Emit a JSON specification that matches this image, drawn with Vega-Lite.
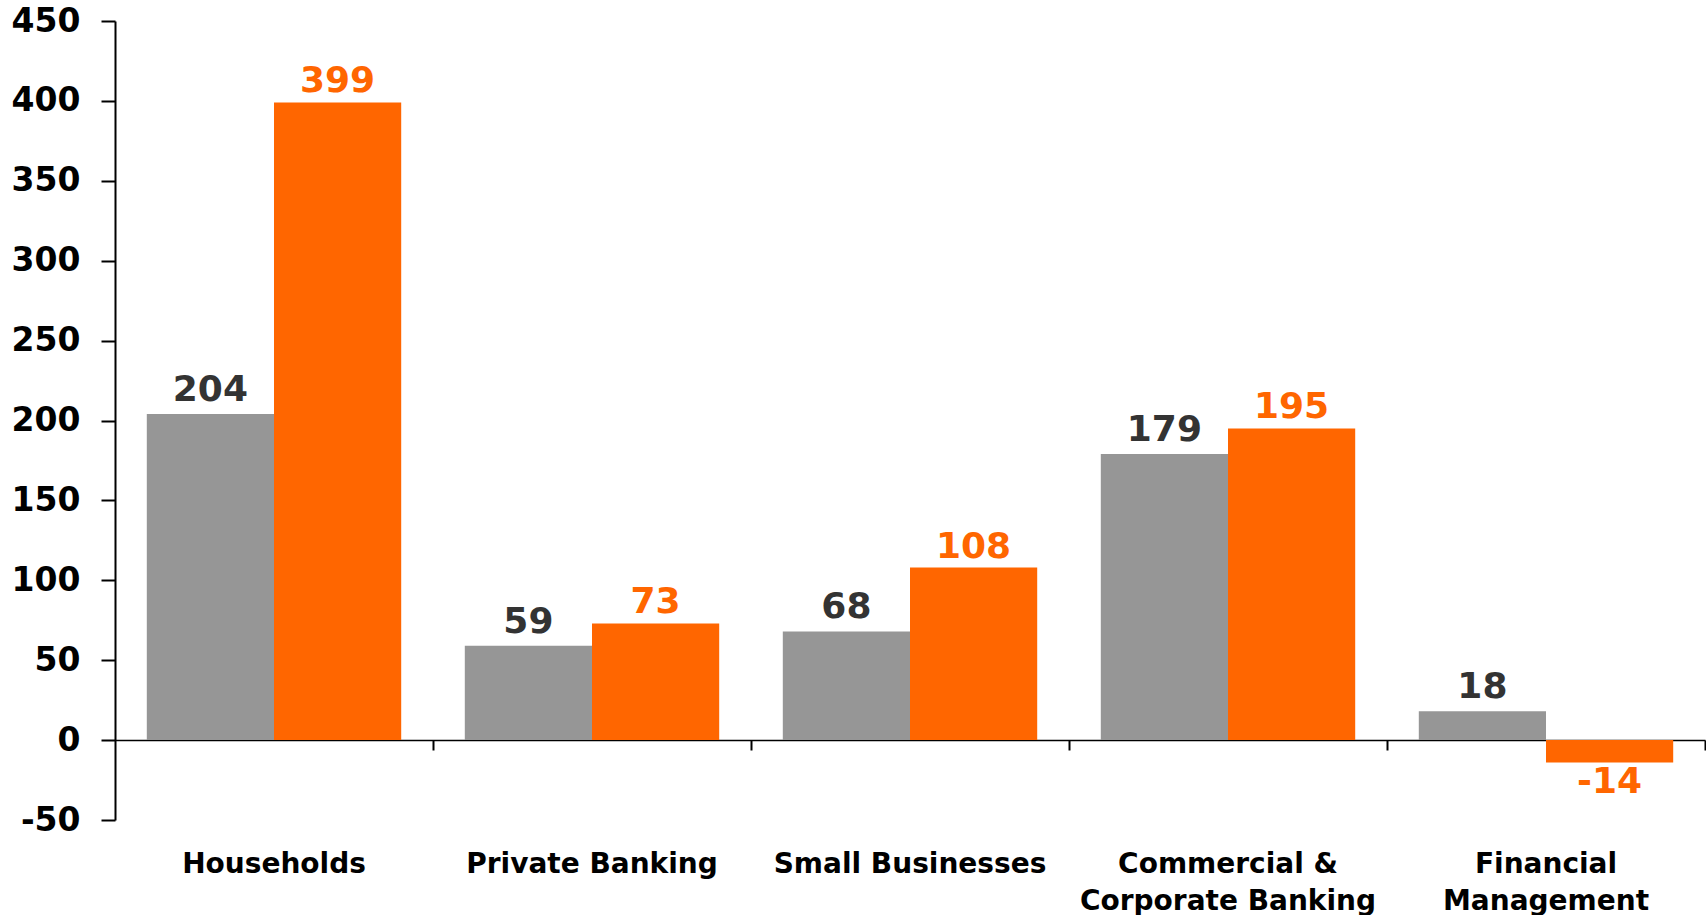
{
  "$schema": "https://vega.github.io/schema/vega-lite/v6.json",
  "width": 1590,
  "height": 799,
  "autosize": "none",
  "padding": {"left": 115, "top": 21, "right": 1, "bottom": 95},
  "background": "white",
  "config": {"view": {"stroke": null}, "font": "DejaVu Sans"},
  "data": {
    "values": [
      {"segment": "Households", "series": "Series 1", "value": 204},
      {"segment": "Households", "series": "Series 2", "value": 399},
      {"segment": "Private Banking", "series": "Series 1", "value": 59},
      {"segment": "Private Banking", "series": "Series 2", "value": 73},
      {"segment": "Small Businesses", "series": "Series 1", "value": 68},
      {"segment": "Small Businesses", "series": "Series 2", "value": 108},
      {"segment": "Commercial & Corporate Banking", "series": "Series 1", "value": 179},
      {"segment": "Commercial & Corporate Banking", "series": "Series 2", "value": 195},
      {"segment": "Financial Management", "series": "Series 1", "value": 18},
      {"segment": "Financial Management", "series": "Series 2", "value": -14}
    ]
  },
  "encoding": {
    "x": {
      "field": "segment",
      "type": "nominal",
      "sort": null,
      "scale": {"paddingInner": 0.2, "paddingOuter": 0.1},
      "axis": {
        "title": null,
        "orient": "bottom",
        "offset": -80,
        "bandPosition": 1.125,
        "tickExtra": false,
        "labelAngle": 0,
        "labelFont": "DejaVu Sans",
        "labelFontSize": 28,
        "labelFontWeight": "bold",
        "labelColor": "black",
        "labelPadding": 100,
        "labelLineHeight": 37,
        "labelBaseline": "top",
        "labelLimit": 500,
        "labelExpr": "datum.label == 'Commercial & Corporate Banking' ? ['Commercial &', 'Corporate Banking'] : datum.label == 'Financial Management' ? ['Financial', 'Management'] : datum.label",
        "tickSize": 10,
        "tickWidth": 2,
        "tickColor": "black",
        "domainColor": "black",
        "domainWidth": 1.5,
        "grid": false
      }
    },
    "xOffset": {
      "field": "series",
      "type": "nominal",
      "sort": ["Series 1", "Series 2"],
      "scale": {"paddingInner": 0, "paddingOuter": 0}
    },
    "y": {
      "field": "value",
      "type": "quantitative",
      "scale": {"domain": [-50, 450], "nice": false, "zero": false},
      "axis": {
        "title": null,
        "values": [-50, 0, 50, 100, 150, 200, 250, 300, 350, 400, 450],
        "labelExpr": "'' + datum.value",
        "labelFont": "DejaVu Sans",
        "labelFontSize": 33,
        "labelFontWeight": "bold",
        "labelColor": "black",
        "labelPadding": 21,
        "tickSize": 14,
        "tickWidth": 2,
        "tickColor": "black",
        "domainColor": "black",
        "domainWidth": 2,
        "grid": false
      }
    }
  },
  "layer": [
    {
      "mark": {"type": "bar"},
      "encoding": {
        "color": {
          "field": "series",
          "type": "nominal",
          "sort": ["Series 1", "Series 2"],
          "scale": {"range": ["#969696", "#FF6600"]},
          "legend": null
        }
      }
    },
    {
      "transform": [{"filter": "datum.value >= 0 && datum.series == 'Series 1'"}],
      "mark": {"type": "text", "baseline": "alphabetic", "dy": -13, "fontSize": 36, "fontWeight": "bold", "font": "DejaVu Sans", "color": "#333333"},
      "encoding": {
        "text": {"field": "value", "type": "nominal"}
      }
    },
    {
      "transform": [{"filter": "datum.value >= 0 && datum.series == 'Series 2'"}],
      "mark": {"type": "text", "baseline": "alphabetic", "dy": -10, "fontSize": 36, "fontWeight": "bold", "font": "DejaVu Sans", "color": "#FF6600"},
      "encoding": {
        "text": {"field": "value", "type": "nominal"}
      }
    },
    {
      "transform": [{"filter": "datum.value < 0"}],
      "mark": {"type": "text", "baseline": "top", "dy": 3, "fontSize": 36, "fontWeight": "bold", "font": "DejaVu Sans"},
      "encoding": {
        "text": {"field": "value", "type": "nominal"},
        "color": {"condition": {"test": "datum.series == 'Series 1'", "value": "#333333"}, "value": "#FF6600"}
      }
    }
  ]
}
